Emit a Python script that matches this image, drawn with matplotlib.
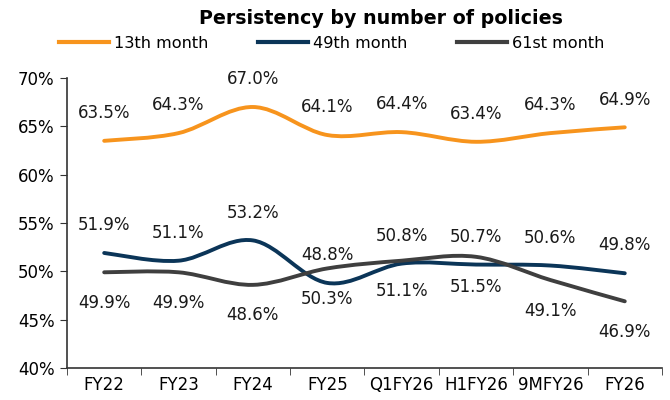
import numpy as np
import matplotlib.pyplot as plt
from matplotlib.path import Path
from matplotlib.patches import PathPatch
from matplotlib.lines import Line2D
from matplotlib.ticker import FuncFormatter

periods = ['FY22', 'FY23', 'FY24', 'FY25', 'Q1FY26', 'H1FY26', '9MFY26', 'FY26']
month13 = [63.5, 64.3, 67.0, 64.1, 64.4, 63.4, 64.3, 64.9]
month49 = [51.9, 51.1, 53.2, 48.8, 50.8, 50.7, 50.6, 49.8]
month61 = [49.9, 49.9, 48.6, 50.3, 51.1, 51.5, 49.1, 46.9]

series = [('13th month', month13, '#F7941D', 'above'),
          ('49th month', month49, '#0B3558', 'above'),
          ('61st month', month61, '#3F3F3F', 'below')]


def smooth_path(x, y):
    # Excel-like smoothed line: bezier segments through every point
    pts = np.column_stack([x, y]).astype(float)
    verts = [pts[0]]
    codes = [Path.MOVETO]
    n = len(pts)
    for i in range(n - 1):
        p0 = pts[i - 1] if i > 0 else pts[i]
        p1 = pts[i]
        p2 = pts[i + 1]
        p3 = pts[i + 2] if i + 2 < n else pts[i + 1]
        c1 = p1 + (p2 - p0) / 6.0
        c2 = p2 - (p3 - p1) / 6.0
        verts += [c1, c2, p2]
        codes += [Path.CURVE4] * 3
    return Path(verts, codes)


plt.rcParams['font.family'] = 'DejaVu Sans'
fig = plt.figure(figsize=(6.7, 4), dpi=100)
ax = fig.add_axes([0.1, 0.08, 0.888, 0.725])

x = np.arange(len(periods))
for name, vals, color, pos in series:
    patch = PathPatch(smooth_path(x, vals), facecolor='none', edgecolor=color,
                      linewidth=2.8, capstyle='round', joinstyle='round')
    ax.add_patch(patch)
    dy = 20 if pos == 'above' else -22
    for xi, v in zip(x, vals):
        ax.annotate(f'{v:.1f}%', (xi, v), xytext=(0, dy), textcoords='offset points',
                    ha='center', va='center', fontsize=12, color='#1a1a1a')

ax.set_xlim(-0.5, len(periods) - 0.5)
ax.set_ylim(40, 70)
ax.set_yticks(range(40, 71, 5))
ax.yaxis.set_major_formatter(FuncFormatter(lambda v, p: f'{v:.0f}%'))
ax.set_xticks(x)
ax.set_xticklabels(periods)
ax.set_xticks(np.arange(-0.5, len(periods)), minor=True)
ax.tick_params(axis='x', which='major', length=0, labelsize=12, pad=6)
ax.tick_params(axis='x', which='minor', length=5, color='#333333')
ax.tick_params(axis='y', length=5, labelsize=12, color='#333333', pad=4)
for s in ['top', 'right']:
    ax.spines[s].set_visible(False)
for s in ['left', 'bottom']:
    ax.spines[s].set_color('#333333')
    ax.spines[s].set_linewidth(1.2)

fig.text(0.568, 0.955, 'Persistency by number of policies', ha='center', va='center',
         fontsize=13.7, fontweight='bold')
handles = [Line2D([], [], color=c, linewidth=3) for _, _, c, _ in series]
fig.legend(handles, [s[0] for s in series], loc='center', bbox_to_anchor=(0.495, 0.892),
           ncol=3, frameon=False, fontsize=11.6, handlelength=3.1, handletextpad=0.3,
           columnspacing=3.1)

fig.savefig('out.png', dpi=100)
